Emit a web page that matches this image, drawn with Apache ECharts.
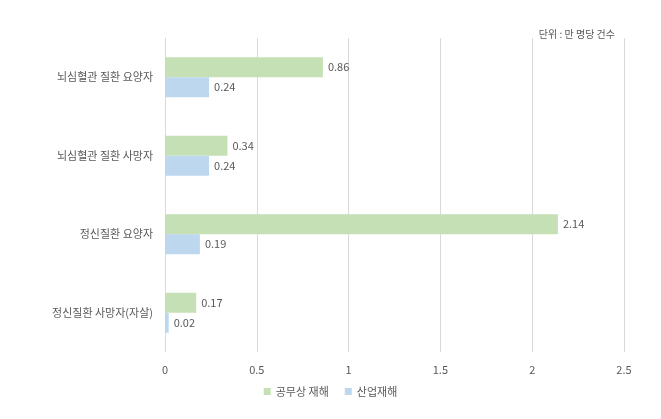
<!DOCTYPE html>
<html>
<head>
<meta charset="utf-8">
<script src="https://cdn.jsdelivr.net/npm/echarts@6/dist/echarts.min.js"></script>
<style>
  html, body { margin: 0; padding: 0; background: #fff; }
  #chart { width: 661px; height: 419px; }
</style>
</head>
<body>
<div id="chart"></div>
<script>
const categories = ['뇌심혈관 질환 요양자', '뇌심혈관 질환 사망자', '정신질환 요양자', '정신질환 사망자(자살)']
const publicInjury = [0.86, 0.34, 2.14, 0.17]
const industrialInjury = [0.24, 0.24, 0.19, 0.02]
const seriesNames = ['공무상 재해', '산업재해']

const font = "'Noto Sans CJK KR', 'Noto Sans', sans-serif"
const textColor = '#595959'

const chart = echarts.init(document.getElementById('chart'))
chart.setOption({
  animation: false,
  textStyle: { fontFamily: font },
  title: {
    text: '단위 : 만 명당 건수',
    right: 41,
    top: 24,
    textStyle: { fontSize: 10, fontWeight: 'normal', color: textColor, fontFamily: font },
  },
  legend: {
    data: seriesNames,
    bottom: 17,
    itemWidth: 7,
    itemHeight: 7,
    itemGap: 16,
    icon: 'rect',
    textStyle: { fontSize: 11, color: textColor, fontFamily: font },
  },
  grid: { left: 165, right: 37, top: 38, bottom: 67, containLabel: false },
  xAxis: {
    type: 'value',
    min: 0,
    max: 2.5,
    interval: 0.5,
    axisLine: { show: false },
    axisTick: { show: false },
    axisLabel: { color: textColor, fontSize: 11, margin: 12 },
    splitLine: { lineStyle: { color: '#d9d9d9' } },
  },
  yAxis: {
    type: 'category',
    data: categories,
    inverse: true,
    axisLine: { show: false },
    axisTick: { show: false },
    axisLabel: { color: textColor, fontSize: 11, margin: 12 },
  },
  series: [
    {
      name: seriesNames[0],
      type: 'bar',
      data: publicInjury,
      barWidth: 20,
      barGap: '0%',
      itemStyle: { color: '#c5e0b4' },
      label: { show: true, position: 'right', color: textColor, fontSize: 11 },
    },
    {
      name: seriesNames[1],
      type: 'bar',
      data: industrialInjury,
      barWidth: 20,
      barGap: '0%',
      itemStyle: { color: '#bdd7ee' },
      label: { show: true, position: 'right', color: textColor, fontSize: 11 },
    },
  ],
})
</script>
</body>
</html>
